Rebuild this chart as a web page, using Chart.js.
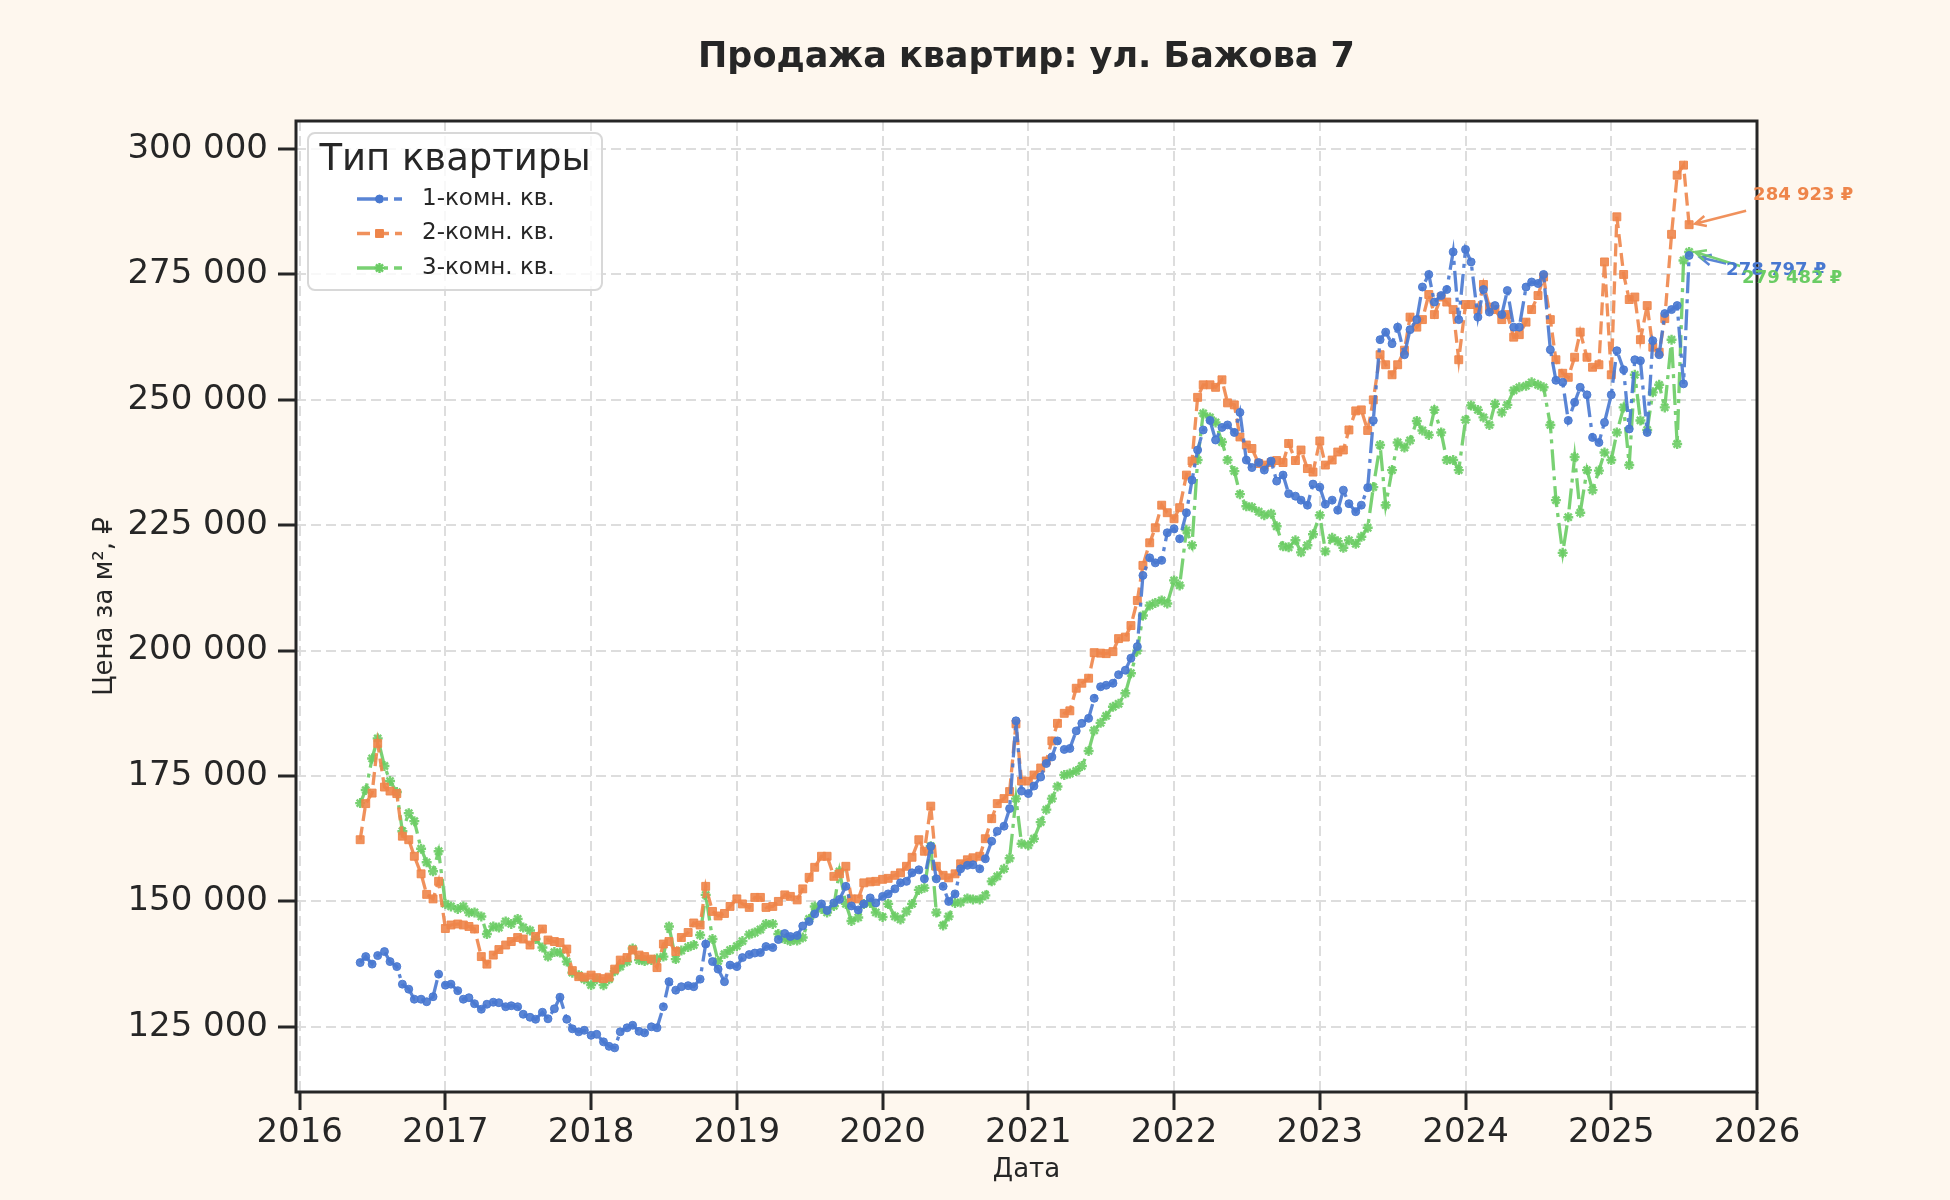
<!DOCTYPE html>
<html lang="ru">
<head>
<meta charset="utf-8">
<title>Продажа квартир: ул. Бажова 7</title>
<script src="https://cdn.jsdelivr.net/npm/chart.js@4.4.1/dist/chart.umd.min.js"></script>
<style>
  html, body { margin: 0; padding: 0; background: #fef7ee; }
  #chart { display: block; }
</style>
</head>
<body>
<canvas id="chart" width="1950" height="1200"></canvas>
<script>
// даты замеров, раз в полмесяца
const dates = [
  '2016-06-01','2016-06-15','2016-07-01','2016-07-15','2016-08-01','2016-08-15','2016-09-01','2016-09-15','2016-10-01','2016-10-15','2016-11-01','2016-11-15','2016-12-01','2016-12-15',
  '2017-01-01','2017-01-15','2017-02-01','2017-02-15','2017-03-01','2017-03-15','2017-04-01','2017-04-15','2017-05-01','2017-05-15','2017-06-01','2017-06-15','2017-07-01','2017-07-15','2017-08-01','2017-08-15','2017-09-01','2017-09-15','2017-10-01','2017-10-15','2017-11-01','2017-11-15','2017-12-01','2017-12-15',
  '2018-01-01','2018-01-15','2018-02-01','2018-02-15','2018-03-01','2018-03-15','2018-04-01','2018-04-15','2018-05-01','2018-05-15','2018-06-01','2018-06-15','2018-07-01','2018-07-15','2018-08-01','2018-08-15','2018-09-01','2018-09-15','2018-10-01','2018-10-15','2018-11-01','2018-11-15','2018-12-01','2018-12-15',
  '2019-01-01','2019-01-15','2019-02-01','2019-02-15','2019-03-01','2019-03-15','2019-04-01','2019-04-15','2019-05-01','2019-05-15','2019-06-01','2019-06-15','2019-07-01','2019-07-15','2019-08-01','2019-08-15','2019-09-01','2019-09-15','2019-10-01','2019-10-15','2019-11-01','2019-11-15','2019-12-01','2019-12-15',
  '2020-01-01','2020-01-15','2020-02-01','2020-02-15','2020-03-01','2020-03-15','2020-04-01','2020-04-15','2020-05-01','2020-05-15','2020-06-01','2020-06-15','2020-07-01','2020-07-15','2020-08-01','2020-08-15','2020-09-01','2020-09-15','2020-10-01','2020-10-15','2020-11-01','2020-11-15','2020-12-01','2020-12-15',
  '2021-01-01','2021-01-15','2021-02-01','2021-02-15','2021-03-01','2021-03-15','2021-04-01','2021-04-15','2021-05-01','2021-05-15','2021-06-01','2021-06-15','2021-07-01','2021-07-15','2021-08-01','2021-08-15','2021-09-01','2021-09-15','2021-10-01','2021-10-15','2021-11-01','2021-11-15','2021-12-01','2021-12-15',
  '2022-01-01','2022-01-15','2022-02-01','2022-02-15','2022-03-01','2022-03-15','2022-04-01','2022-04-15','2022-05-01','2022-05-15','2022-06-01','2022-06-15','2022-07-01','2022-07-15','2022-08-01','2022-08-15','2022-09-01','2022-09-15','2022-10-01','2022-10-15','2022-11-01','2022-11-15','2022-12-01','2022-12-15',
  '2023-01-01','2023-01-15','2023-02-01','2023-02-15','2023-03-01','2023-03-15','2023-04-01','2023-04-15','2023-05-01','2023-05-15','2023-06-01','2023-06-15','2023-07-01','2023-07-15','2023-08-01','2023-08-15','2023-09-01','2023-09-15','2023-10-01','2023-10-15','2023-11-01','2023-11-15','2023-12-01','2023-12-15',
  '2024-01-01','2024-01-15','2024-02-01','2024-02-15','2024-03-01','2024-03-15','2024-04-01','2024-04-15','2024-05-01','2024-05-15','2024-06-01','2024-06-15','2024-07-01','2024-07-15','2024-08-01','2024-08-15','2024-09-01','2024-09-15','2024-10-01','2024-10-15','2024-11-01','2024-11-15','2024-12-01','2024-12-15',
  '2025-01-01','2025-01-15','2025-02-01','2025-02-15','2025-03-01','2025-03-15','2025-04-01','2025-04-15','2025-05-01','2025-05-15','2025-06-01','2025-06-15','2025-07-01','2025-07-15'
];

// цена за м², тыс. ₽ (одна строка = один год)
const oneRoom = [
  137.8, 139.0, 137.5, 139.2, 140.0, 138.0, 137.0, 133.5, 132.5, 130.5, 130.5, 130.0, 131.0, 135.5,
  133.3, 133.5, 132.2, 130.5, 130.8, 129.6, 128.5, 129.5, 129.9, 129.8, 129.0, 129.2, 129.0, 127.5, 126.9, 126.5, 127.9, 126.6, 128.6, 130.9, 126.5, 124.6, 124.0, 124.3,
  123.3, 123.5, 122.0, 121.1, 120.8, 124.0, 124.8, 125.3, 124.1, 123.8, 125.0, 124.8, 129.0, 134.0, 132.3, 133.0, 133.2, 133.0, 134.5, 141.5, 138.0, 136.5, 134.0, 137.3,
  137.0, 138.8, 139.4, 139.7, 139.8, 141.0, 140.8, 142.4, 143.6, 143.0, 143.2, 145.1, 146.0, 147.5, 149.5, 148.2, 149.7, 150.4, 153.0, 149.1, 148.3, 149.5, 150.7, 149.7,
  151.0, 151.5, 152.5, 153.7, 154.0, 155.7, 156.3, 154.5, 161.0, 154.5, 153.0, 150.0, 151.5, 156.5, 157.2, 157.3, 156.5, 158.5, 162.0, 164.0, 165.0, 168.5, 186.0, 172.0,
  171.5, 173.0, 174.8, 177.5, 178.8, 182.0, 180.3, 180.5, 184.0, 185.5, 186.5, 190.5, 192.8, 193.1, 193.5, 195.2, 196.1, 198.5, 200.8, 215.0, 218.5, 217.5, 218.0, 223.5,
  224.3, 222.3, 227.5, 234.0, 240.0, 244.0, 245.9, 242.0, 244.5, 245.0, 243.5, 247.5, 238.0, 236.5, 237.5, 236.0, 237.8, 233.8, 235.0, 231.3, 230.8, 230.0, 229.0, 233.2,
  232.6, 229.2, 230.0, 228.0, 232.0, 229.3, 227.7, 229.0, 232.5, 245.9, 262.0, 263.5, 261.2, 264.5, 259.0, 264.0, 266.0, 272.5, 275.0, 269.5, 270.8, 272.0, 279.5, 266.0,
  280.0, 277.5, 266.5, 272.0, 267.5, 268.8, 267.0, 271.8, 264.5, 264.5, 272.5, 273.5, 273.2, 275.0, 260.0, 253.9, 253.5, 245.9, 249.5, 252.5, 251.0, 242.5, 241.5, 245.5,
  251.0, 259.8, 256.0, 244.2, 258.0, 257.8, 243.5, 261.8, 259.0, 267.2, 268.0, 268.8, 253.2, 278.797
];
const twoRoom = [
  162.3, 169.5, 171.6, 181.5, 172.8, 172.0, 171.5, 163.0, 162.3, 159.0, 155.5, 151.4, 150.5, 154.0,
  144.6, 145.3, 145.5, 145.3, 145.0, 144.5, 139.0, 137.5, 139.3, 140.4, 141.3, 142.0, 142.8, 142.5, 141.3, 143.0, 144.5, 142.3, 142.0, 141.8, 140.5, 136.2, 135.0, 134.9,
  135.3, 134.8, 134.6, 134.9, 136.5, 138.3, 138.8, 140.3, 139.3, 139.0, 138.5, 136.8, 141.5, 142.0, 140.0, 142.8, 143.8, 145.7, 145.3, 153.0, 148.0, 147.1, 147.6, 149.0,
  150.5, 149.5, 148.8, 150.8, 150.8, 148.8, 149.0, 150.0, 151.3, 151.0, 150.3, 152.5, 154.8, 156.8, 159.0, 159.0, 155.0, 155.5, 157.0, 150.5, 150.5, 153.7, 153.9, 154.0,
  154.4, 154.6, 155.2, 155.7, 157.0, 158.8, 162.3, 160.0, 169.0, 157.0, 155.2, 154.7, 155.5, 157.5, 158.3, 158.7, 159.0, 162.5, 166.5, 169.5, 170.5, 171.9, 185.4, 174.0,
  174.0, 175.2, 176.6, 178.0, 182.0, 185.5, 187.5, 188.0, 192.5, 193.5, 194.5, 199.6, 199.5, 199.4, 199.8, 202.4, 202.7, 205.0, 210.0, 217.0, 221.5, 224.5, 229.0, 227.5,
  226.3, 228.5, 235.0, 237.8, 250.5, 253.0, 253.0, 252.5, 254.0, 249.4, 249.0, 242.6, 241.0, 240.3, 237.3, 237.0, 237.5, 237.9, 237.5, 241.3, 237.9, 240.0, 236.3, 235.6,
  241.8, 237.0, 238.0, 239.6, 240.0, 244.0, 247.8, 248.0, 243.9, 250.0, 259.0, 257.0, 255.0, 257.0, 259.9, 266.5, 264.5, 266.0, 271.0, 267.0, 270.5, 269.5, 268.0, 258.0,
  269.0, 269.0, 268.0, 273.0, 268.5, 268.0, 266.0, 267.0, 262.5, 263.0, 265.5, 268.0, 270.8, 274.5, 266.0, 258.0, 255.3, 254.5, 258.5, 263.5, 258.5, 256.5, 257.0, 277.5,
  255.0, 286.5, 275.0, 270.0, 270.5, 262.0, 268.8, 260.5, 259.5, 266.2, 283.0, 294.8, 296.8, 284.923
];
const threeRoom = [
  169.6, 172.2, 178.5, 182.5, 177.0, 174.0, 171.8, 164.0, 167.6, 166.0, 160.5, 157.8, 156.0, 160.0,
  149.5, 149.0, 148.5, 149.0, 147.8, 147.8, 147.0, 143.5, 145.0, 144.8, 146.0, 145.5, 146.5, 144.8, 144.2, 142.5, 140.8, 139.0, 139.9, 139.8, 138.0, 135.8, 135.3, 134.5,
  133.3, 134.5, 133.3, 134.5, 136.1, 137.0, 138.0, 140.6, 138.3, 138.1, 138.3, 138.6, 139.0, 145.0, 138.5, 140.2, 140.9, 141.3, 143.3, 151.3, 142.5, 138.1, 139.5, 140.3,
  141.1, 142.1, 143.4, 143.8, 144.4, 145.5, 145.5, 143.5, 142.5, 142.1, 142.2, 142.8, 146.5, 149.0, 148.5, 147.8, 149.1, 156.0, 149.5, 146.1, 146.8, 149.5, 149.7, 147.8,
  146.9, 149.5, 147.0, 146.4, 148.0, 149.5, 152.3, 152.7, 161.0, 147.8, 145.2, 147.0, 149.7, 149.8, 150.6, 150.4, 150.4, 151.2, 154.0, 155.0, 156.5, 158.6, 170.5, 161.5,
  161.2, 162.5, 165.8, 168.3, 170.5, 172.9, 175.2, 175.5, 176.0, 177.0, 180.0, 184.1, 185.6, 187.0, 188.8, 189.4, 191.5, 195.5, 200.0, 207.0, 209.0, 209.5, 210.0, 209.4,
  214.0, 213.0, 224.0, 221.0, 238.0, 247.3, 246.5, 245.5, 241.6, 238.0, 235.8, 231.2, 228.8, 228.6, 227.7, 227.0, 227.3, 224.8, 220.8, 220.6, 222.0, 219.6, 221.0, 223.2,
  227.0, 219.8, 222.5, 221.8, 220.5, 222.0, 221.3, 222.7, 224.5, 232.6, 241.0, 229.0, 236.0, 241.5, 240.5, 241.9, 245.8, 243.9, 243.0, 248.0, 243.5, 238.0, 238.0, 236.0,
  246.0, 248.9, 248.0, 246.5, 245.0, 249.2, 247.5, 249.0, 251.9, 252.5, 252.8, 253.5, 253.0, 252.5, 245.0, 230.0, 219.5, 226.6, 238.6, 227.5, 236.0, 232.0, 235.9, 239.5,
  238.0, 243.5, 248.5, 237.0, 255.0, 245.9, 244.0, 251.5, 253.0, 248.5, 262.0, 241.2, 277.8, 279.482
];

const seriesNames = ['1-комн. кв.', '2-комн. кв.', '3-комн. кв.'];
const yearTicks = [2016, 2017, 2018, 2019, 2020, 2021, 2022, 2023, 2024, 2025, 2026];
const priceTicks = [125000, 150000, 175000, 200000, 225000, 250000, 275000, 300000];

const INK = '#262626';
const FONT = '"DejaVu Sans", "Noto Sans", sans-serif';
const colors = ['#4878d0', '#ee854a', '#6acc64'];
const lineColors = ['rgba(72,120,208,0.9)', 'rgba(238,133,74,0.9)', 'rgba(106,204,100,0.9)'];

// дата -> дробный год
function toYear(s) {
  const [y, m, d] = s.split('-').map(Number);
  const start = Date.UTC(y, 0, 1), end = Date.UTC(y + 1, 0, 1);
  return y + (Date.UTC(y, m - 1, d) - start) / (end - start);
}

function spaced(n) {
  return String(Math.round(n)).replace(/\B(?=(\d{3})+(?!\d))/g, ' ');
}

function points(values) {
  return values.map((v, i) => ({ x: toYear(dates[i]), y: v * 1000 }));
}

function drawMarker(ctx, style, x, y, r, color, bw) {
  ctx.save();
  ctx.fillStyle = color;
  ctx.strokeStyle = color;
  ctx.lineWidth = bw;
  ctx.beginPath();
  if (style === 'rect') {
    const s = r * Math.SQRT1_2;
    ctx.rect(x - s, y - s, 2 * s, 2 * s);
    ctx.fill();
    ctx.stroke();
  } else if (style === 'star') {
    for (let k = 0; k < 4; k++) {
      const a = k * Math.PI / 4;
      ctx.moveTo(x - Math.cos(a) * r, y - Math.sin(a) * r);
      ctx.lineTo(x + Math.cos(a) * r, y + Math.sin(a) * r);
    }
    ctx.stroke();
  } else {
    ctx.arc(x, y, r, 0, Math.PI * 2);
    ctx.fill();
    ctx.stroke();
  }
  ctx.restore();
}

function arrow(ctx, x0, y0, x1, y1, color) {
  const a = Math.atan2(y1 - y0, x1 - x0);
  const h = 12;
  ctx.save();
  ctx.strokeStyle = color;
  ctx.lineWidth = 2.5;
  ctx.beginPath();
  ctx.moveTo(x0, y0);
  ctx.lineTo(x1, y1);
  ctx.moveTo(x1 - h * Math.cos(a - 0.45), y1 - h * Math.sin(a - 0.45));
  ctx.lineTo(x1, y1);
  ctx.lineTo(x1 - h * Math.cos(a + 0.45), y1 - h * Math.sin(a + 0.45));
  ctx.stroke();
  ctx.restore();
}

// фон холста и белое поле графика
const backdrop = {
  id: 'backdrop',
  beforeDraw(chart) {
    const { ctx, chartArea: a, width, height } = chart;
    ctx.save();
    ctx.fillStyle = '#fef7ee';
    ctx.fillRect(0, 0, width, height);
    ctx.fillStyle = '#ffffff';
    ctx.fillRect(a.left, a.top, a.right - a.left, a.bottom - a.top);
    ctx.restore();
  }
};

// легенда внутри поля, слева сверху
const legendBox = {
  id: 'legendBox',
  afterDatasetsDraw(chart) {
    const { ctx, chartArea } = chart;
    const x = chartArea.left + 12, y = chartArea.top + 12, w = 294, h = 157;
    ctx.save();
    ctx.beginPath();
    ctx.roundRect(x, y, w, h, 7);
    ctx.fillStyle = 'rgba(255,255,255,0.8)';
    ctx.fill();
    ctx.lineWidth = 2;
    ctx.strokeStyle = '#d8d8d8';
    ctx.stroke();

    ctx.fillStyle = INK;
    ctx.font = '37px ' + FONT;
    ctx.textAlign = 'center';
    ctx.textBaseline = 'alphabetic';
    ctx.fillText('Тип квартиры', x + w / 2, y + 37);

    chart.data.datasets.forEach((ds, i) => {
      const cy = y + 66 + i * 34.5;
      const x0 = x + 49, x1 = x + 94;
      ctx.setLineDash(ds.borderDash);
      ctx.lineWidth = ds.borderWidth;
      ctx.strokeStyle = ds.borderColor;
      ctx.beginPath();
      ctx.moveTo(x0, cy);
      ctx.lineTo(x1, cy);
      ctx.stroke();
      ctx.setLineDash([]);
      drawMarker(ctx, ds.pointStyle, (x0 + x1) / 2, cy, ds.pointRadius, colors[i], ds.pointBorderWidth);
      ctx.fillStyle = INK;
      ctx.font = '23px ' + FONT;
      ctx.textAlign = 'left';
      ctx.textBaseline = 'middle';
      ctx.fillText(ds.label, x + 114, cy);
    });
    ctx.restore();
  }
};

// рамка и подписи последних значений
const placement = [
  { text: [37, 20], tail: [37, 8], head: [11, 2] },
  { text: [64, -25], tail: [57, -14], head: [6, -1] },
  { text: [53, 31], tail: [51, 14], head: [6, 0] }
];
const lastLabels = {
  id: 'lastLabels',
  afterDraw(chart) {
    const { ctx, chartArea: a } = chart;
    ctx.save();
    ctx.strokeStyle = INK;
    ctx.lineWidth = 3;
    ctx.strokeRect(a.left, a.top, a.right - a.left, a.bottom - a.top);

    [1, 0, 2].forEach(i => {
      const meta = chart.getDatasetMeta(i);
      const pt = meta.data[meta.data.length - 1];
      const p = placement[i];
      arrow(ctx, pt.x + p.tail[0], pt.y + p.tail[1], pt.x + p.head[0], pt.y + p.head[1], lineColors[i]);
    });
    [1, 0, 2].forEach(i => {
      const ds = chart.data.datasets[i];
      const meta = chart.getDatasetMeta(i);
      const pt = meta.data[meta.data.length - 1];
      const p = placement[i];
      ctx.fillStyle = colors[i];
      ctx.font = 'bold 18px ' + FONT;
      ctx.textAlign = 'left';
      ctx.textBaseline = 'alphabetic';
      ctx.fillText(spaced(ds.data[ds.data.length - 1].y) + ' ₽', pt.x + p.text[0], pt.y + p.text[1]);
    });
    ctx.restore();
  }
};

const series = [oneRoom, twoRoom, threeRoom];
const styles = [
  { pointStyle: 'circle', pointRadius: 4, pointBorderWidth: 1, borderDash: [21, 6, 4, 6] },
  { pointStyle: 'rect', pointRadius: 5.6, pointBorderWidth: 1, borderDash: [13, 6] },
  { pointStyle: 'star', pointRadius: 5, pointBorderWidth: 2.4, borderDash: [21, 6, 4, 6] }
];

new Chart(document.getElementById('chart'), {
  type: 'line',
  data: {
    datasets: series.map((vals, i) => ({
      label: seriesNames[i],
      data: points(vals),
      borderColor: lineColors[i],
      backgroundColor: lineColors[i],
      pointBackgroundColor: lineColors[i],
      pointBorderColor: lineColors[i],
      borderWidth: 3.3,
      pointBorderWidth: styles[i].pointBorderWidth,
      pointStyle: styles[i].pointStyle,
      pointRadius: styles[i].pointRadius,
      borderDash: styles[i].borderDash,
      tension: 0,
      fill: false
    }))
  },
  options: {
    responsive: false,
    animation: false,
    devicePixelRatio: 1,
    layout: { padding: { left: 0, right: 193, top: 0, bottom: 0 } },
    plugins: {
      legend: { display: false },
      tooltip: { enabled: false },
      title: {
        display: true,
        fullSize: false,
        text: 'Продажа квартир: ул. Бажова 7',
        color: INK,
        font: { family: FONT, size: 35, weight: 'bold' },
        padding: { top: 37, bottom: 42 }
      }
    },
    scales: {
      x: {
        type: 'linear',
        min: 2015.975,
        max: 2026,
        afterBuildTicks: s => { s.ticks = yearTicks.map(v => ({ value: v })); },
        afterFit: s => { s.height = 108; },
        ticks: {
          autoSkip: false,
          maxRotation: 0,
          padding: 3,
          color: INK,
          font: { family: FONT, size: 34 },
          callback: v => String(v)
        },
        grid: {
          color: '#dddddd',
          lineWidth: 2,
          tickLength: 18,
          tickWidth: 3,
          tickColor: INK,
          tickBorderDash: []
        },
        border: { display: false, dash: [10, 5] },
        title: {
          display: true,
          text: 'Дата',
          color: INK,
          font: { family: FONT, size: 26 },
          padding: { top: 0, bottom: 14 }
        }
      },
      y: {
        min: 112000,
        max: 305600,
        afterBuildTicks: s => { s.ticks = priceTicks.map(v => ({ value: v })); },
        afterFit: s => { s.width = 296; },
        ticks: {
          autoSkip: false,
          padding: 10,
          color: INK,
          font: { family: FONT, size: 34 },
          callback: v => spaced(v)
        },
        grid: {
          color: '#dddddd',
          lineWidth: 2,
          tickLength: 18,
          tickWidth: 3,
          tickColor: INK,
          tickBorderDash: []
        },
        border: { display: false, dash: [10, 5] },
        title: {
          display: true,
          text: 'Цена за м², ₽',
          color: INK,
          font: { family: FONT, size: 26 },
          padding: { top: 90, bottom: 0 }
        }
      }
    }
  },
  plugins: [backdrop, legendBox, lastLabels]
});
</script>
</body>
</html>
